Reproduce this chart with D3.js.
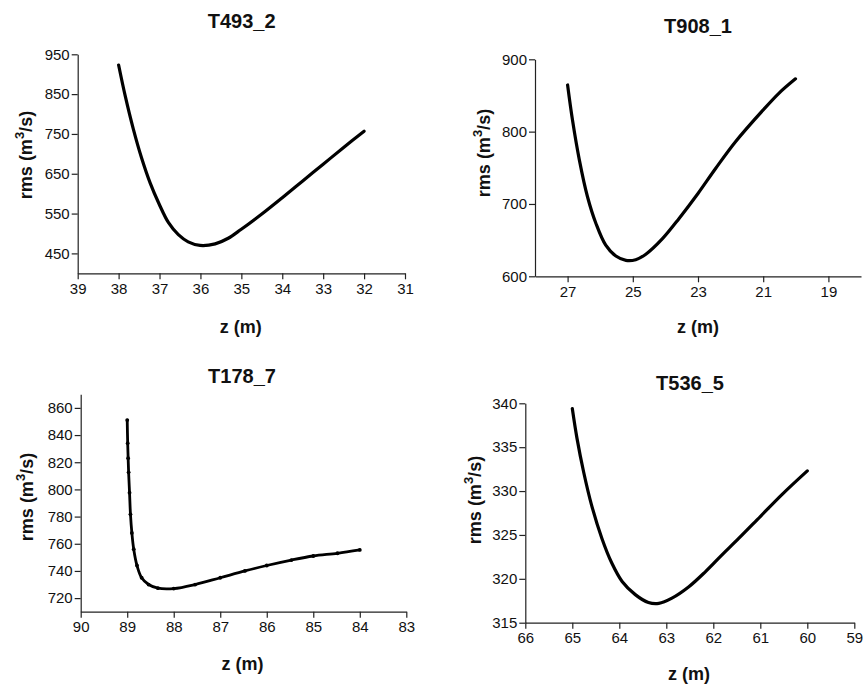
<!DOCTYPE html>
<html>
<head>
<meta charset="utf-8">
<script src="https://cdn.jsdelivr.net/npm/d3@7/dist/d3.min.js"></script>
<style>
  html, body { margin: 0; padding: 0; background: #fff; }
  svg { display: block; }
  text { font-family: "Liberation Sans", Arial, sans-serif; fill: #111; }
</style>
</head>
<body>
<svg id="chart" width="866" height="689"></svg>
<script>
// ---- data ----
const titles = ["T493_2", "T908_1", "T178_7", "T536_5"];

const t493_z   = [38.0, 37.84, 37.64, 37.44, 37.23, 37.01, 36.78, 36.54, 36.30, 36.01, 35.64, 35.32, 35.01, 34.50, 34.0, 33.5, 33.0, 32.5, 32.0];
const t493_rms = [923, 846, 762, 690, 627, 574, 527, 497, 479, 470, 474, 488, 510, 549, 590, 632, 674, 716, 757];

const t908_z   = [27.0, 26.85, 26.64, 26.39, 26.13, 25.83, 25.52, 25.21, 24.91, 24.60, 24.09, 23.58, 23.0, 22.46, 21.85, 21.0, 20.52, 20.01];
const t908_rms = [864.5, 816, 761, 710, 673, 643, 628, 622, 623, 630.5, 652, 680, 714.5, 749, 786, 830, 853, 873];

const t178_z   = [89.0, 88.99, 88.98, 88.97, 88.95, 88.93, 88.90, 88.86, 88.79, 88.69, 88.54, 88.34, 88.0, 87.54, 87.0, 86.47, 86.0, 85.47, 85.0, 84.48, 84.0];
const t178_rms = [851, 834, 823, 812.6, 797.6, 781.7, 768, 756, 744, 735, 730, 727.3, 727, 730, 735, 740, 744, 748, 751, 753, 755.5];

const t536_z   = [65.0, 64.9, 64.76, 64.59, 64.37, 64.16, 63.94, 63.66, 63.38, 63.16, 62.88, 62.52, 62.17, 61.82, 61.46, 61.0, 60.54, 60.0];
const t536_rms = [339.4, 336, 332.2, 328.4, 324.6, 321.8, 319.7, 318.2, 317.3, 317.2, 317.8, 319.1, 320.8, 322.7, 324.6, 327.1, 329.6, 332.3];

const xTicks1 = [39, 38, 37, 36, 35, 34, 33, 32, 31];
const yTicks1 = [450, 550, 650, 750, 850, 950];
const xTicks2 = [27, 25, 23, 21, 19];
const yTicks2 = [600, 700, 800, 900];
const xTicks3 = [90, 89, 88, 87, 86, 85, 84, 83];
const yTicks3 = [720, 740, 760, 780, 800, 820, 840, 860];
const xTicks4 = [66, 65, 64, 63, 62, 61, 60, 59];
const yTicks4 = [315, 320, 325, 330, 335, 340];

const xLabel = "z (m)";

// ---- layout ----
const panels = [
  { title: titles[0], z: t493_z, rms: t493_rms, xd: [39, 31], xr: [77.7, 405], yd: [400, 950], yr: [273.3, 54.3],
    xt: xTicks1, yt: yTicks1, tpos: [241.7, 28], xlpos: [240.7, 333], ylpos: [32, 155], sw: 3.2 },
  { title: titles[1], z: t908_z, rms: t908_rms, xd: [28, 18], xr: [535, 861], yd: [600, 900], yr: [276.3, 59.3],
    xt: xTicks2, yt: yTicks2, tpos: [698, 33], xlpos: [698, 333], ylpos: [490, 153], sw: 3.2 },
  { title: titles[2], z: t178_z, rms: t178_rms, xd: [90, 83], xr: [80.7, 406.3], yd: [710, 870], yr: [611.7, 394.3],
    xt: xTicks3, yt: yTicks3, tpos: [242, 383], xlpos: [242.5, 670], ylpos: [33, 497], sw: 2.8, markers: true },
  { title: titles[3], z: t536_z, rms: t536_rms, xd: [66, 59], xr: [525.3, 854.3], yd: [315, 340], yr: [622.7, 403.3],
    xt: xTicks4, yt: yTicks4, tpos: [690, 390], xlpos: [689, 680], ylpos: [481, 500], sw: 3.2 }
];

const svg = d3.select("#chart");

panels.forEach(p => {
  const x = d3.scaleLinear().domain(p.xd).range(p.xr);
  const y = d3.scaleLinear().domain(p.yd).range(p.yr);
  const g = svg.append("g");

  const xAxis = d3.axisBottom(x).tickValues(p.xt).tickFormat(d3.format("d")).tickSize(6).tickSizeOuter(0).tickPadding(4);
  const yAxis = d3.axisLeft(y).tickValues(p.yt).tickFormat(d3.format("d")).tickSize(6).tickSizeOuter(0).tickPadding(2);

  const gx = g.append("g").attr("transform", `translate(0,${p.yr[0]})`).call(xAxis);
  const gy = g.append("g").attr("transform", `translate(${p.xr[0]},0)`).call(yAxis);
  [gx, gy].forEach(a => {
    a.selectAll("path.domain").attr("stroke", "#222").attr("stroke-width", 1.2);
    a.selectAll(".tick line").attr("stroke", "#222").attr("stroke-width", 1.2);
    a.selectAll(".tick text").attr("font-size", 15).attr("font-family", "Liberation Sans, Arial, sans-serif").attr("fill", "#111");
  });

  const pts = p.z.map((v, i) => [v, p.rms[i]]);
  const line = d3.line().x(d => x(d[0])).y(d => y(d[1])).curve(d3.curveCatmullRom.alpha(0.5));
  g.append("path").datum(pts).attr("d", line).attr("fill", "none").attr("stroke", "#000")
    .attr("stroke-width", p.sw).attr("stroke-linejoin", "round").attr("stroke-linecap", "round");

  if (p.markers) {
    g.selectAll("circle.m").data(pts).enter().append("circle")
      .attr("cx", d => x(d[0])).attr("cy", d => y(d[1])).attr("r", 1.9).attr("fill", "#000");
  }

  g.append("text").attr("x", p.tpos[0]).attr("y", p.tpos[1]).attr("text-anchor", "middle")
    .attr("font-size", 20).attr("font-weight", "bold").text(p.title);

  g.append("text").attr("x", p.xlpos[0]).attr("y", p.xlpos[1]).attr("text-anchor", "middle")
    .attr("font-size", 18).attr("font-weight", "bold").text(xLabel);

  const yl = g.append("text").attr("transform", `translate(${p.ylpos[0]},${p.ylpos[1]}) rotate(-90)`)
    .attr("text-anchor", "middle").attr("font-size", 18).attr("font-weight", "bold");
  yl.append("tspan").text("rms (m");
  yl.append("tspan").attr("font-size", 13).attr("dy", -8).text("3");
  yl.append("tspan").attr("dy", 8).text("/s)");
});
</script>
</body>
</html>
